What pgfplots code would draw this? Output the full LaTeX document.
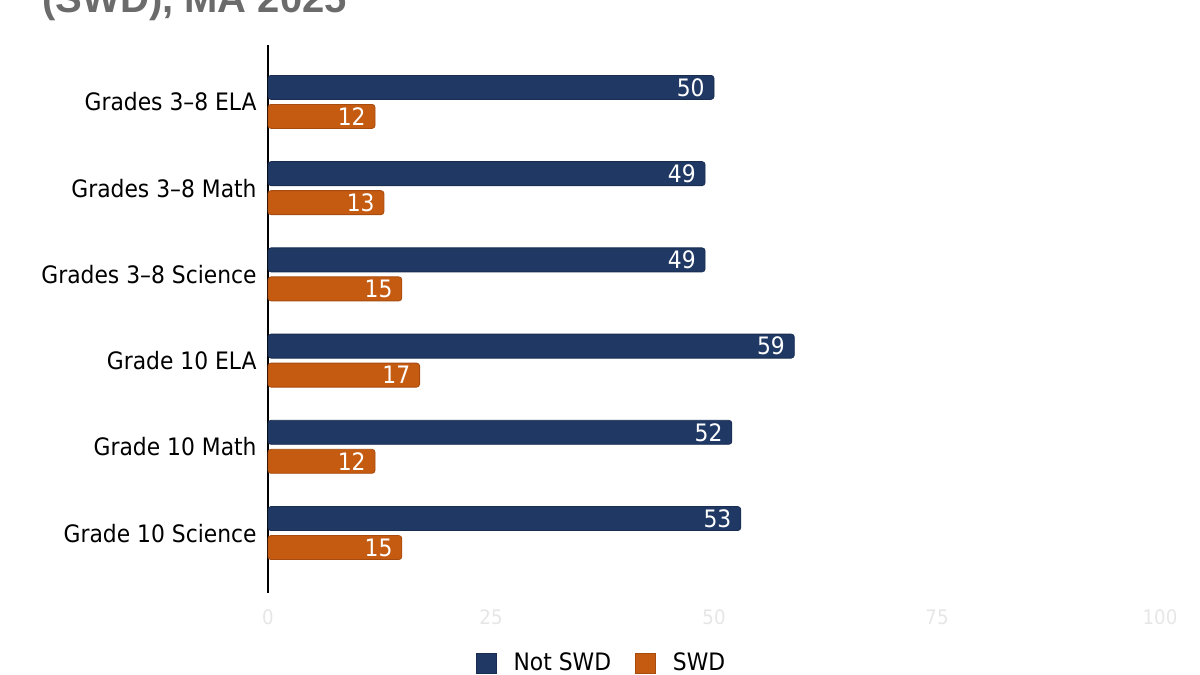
\documentclass[border=0pt]{standalone}
\usepackage{pgfplots}
\pgfplotsset{compat=1.18}
\usepackage{fontspec}
\setmainfont[FakeStretch=0.91]{DejaVu Sans}
\newfontfamily\titlefont{Liberation Sans}
\definecolor{navy}{HTML}{1F3864}
\definecolor{burnt}{HTML}{C55A11}
\definecolor{tickgray}{HTML}{E6E6E6}
\definecolor{titlegray}{HTML}{6B6B6B}
\begin{document}
\begin{tikzpicture}
\node[anchor=base west, inner sep=0pt, font=\titlefont\bfseries\fontsize{20}{24}\selectfont, text=titlegray] at (21pt,331pt) {(SWD), MA 2025};
\begin{axis}[
  at={(134pt,41pt)}, anchor=south west,
  scale only axis, width=446pt, height=274pt,
  xbar,
  xmin=0, xmax=100,
  ymin=-0.695, ymax=5.66,
  xtick={0,25,50,75,100},
  ytick={0,1,2,3,4,5},
  yticklabels={Grade 10 Science, Grade 10 Math, Grade 10 ELA, Grades 3–8 Science, Grades 3–8 Math, Grades 3–8 ELA},
  axis x line=none,
  axis y line=left,
  y axis line style={-, draw=black, line width=0.8pt},
  major tick length=0pt,
  tick style={draw=none},
  /pgf/number format/assume math mode=true,
  yticklabel style={font=\fontsize{12}{14}\selectfont, text=black, inner sep=0pt, xshift=-5.5pt},
  bar width=12pt,
  nodes near coords,
  every node near coord/.append style={anchor=east, text=white, font=\fontsize{12}{14}\selectfont, inner sep=0pt, xshift=-4.5pt},
  legend columns=2,
  legend style={draw=none, at={(0.375,-0.128)}, anchor=center, font=\fontsize{12}{14}\selectfont,
    /tikz/every odd column/.append style={column sep=6.5pt},
    /tikz/every even column/.append style={column sep=10pt}},
  legend image code/.code={\fill[#1, sharp corners] (0pt,-5pt) rectangle (10pt,5pt);},
  clip=false,
]
\addplot[fill=navy, draw=navy!80!black, line width=0.4pt, rounded corners=1.5pt, bar shift=7.25pt] coordinates {(50,5) (49,4) (49,3) (59,2) (52,1) (53,0)};
\addplot[fill=burnt, draw=burnt!85!black, line width=0.4pt, rounded corners=1.5pt, bar shift=-7.25pt] coordinates {(12,5) (13,4) (15,3) (17,2) (12,1) (15,0)};
\legend{Not SWD, SWD}
\end{axis}
% x tick labels (light gray)
\begin{axis}[
  at={(134pt,41pt)}, anchor=south west,
  scale only axis, width=446pt, height=274pt,
  xmin=0, xmax=100, ymin=0, ymax=1,
  hide y axis, axis x line*=bottom, x axis line style={draw=none},
  xtick={0,25,50,75,100}, major tick length=0pt, tick style={draw=none},
  /pgf/number format/assume math mode=true,
  xticklabel style={font=\fontsize{10}{12}\selectfont, text=tickgray, yshift=-5pt},
]
\addplot[draw=none] coordinates {(0,0)};
\end{axis}
\pgfresetboundingbox
\useasboundingbox (0,0) rectangle (600pt,337.5pt);
\end{tikzpicture}
\end{document}
